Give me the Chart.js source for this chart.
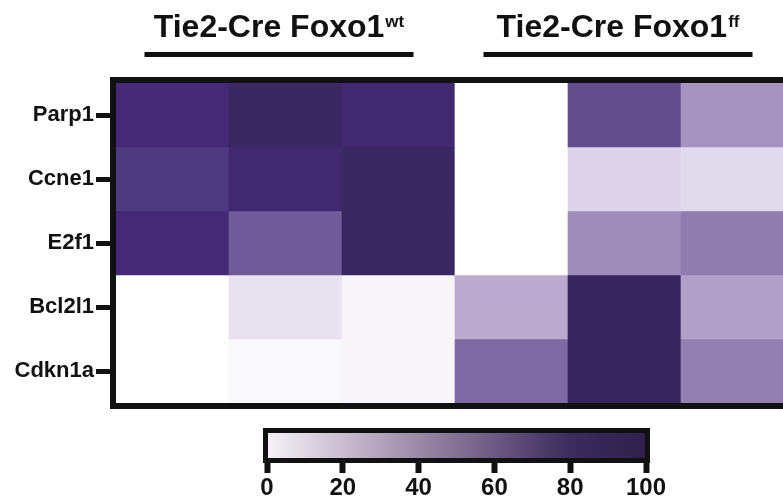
<!DOCTYPE html>
<html>
<head>
<meta charset="utf-8">
<script src="https://cdn.jsdelivr.net/npm/chart.js@4"></script>
<style>
  html, body { margin: 0; padding: 0; background: #fff; overflow: hidden; width: 783px; height: 500px; }
  #main { position: absolute; left: 0; top: 0; }
  #bar { position: absolute; left: 0; top: 410px; }
</style>
</head>
<body>
<canvas id="main" width="800" height="420"></canvas>
<canvas id="bar" width="783" height="90"></canvas>
<script>
// genes (rows, top to bottom) and samples (columns)
var genes = ['Parp1', 'Ccne1', 'E2f1', 'Bcl2l1', 'Cdkn1a'];
var samples = ['wt1', 'wt2', 'wt3', 'ff1', 'ff2', 'ff3'];
var groups = [
    { name: 'Tie2-Cre Foxo1', sup: 'wt', from: 0, to: 2 },
    { name: 'Tie2-Cre Foxo1', sup: 'ff', from: 3, to: 5 }
];

// relative expression, 0-100
var parp1  = [85, 97, 88, 0, 65, 40];
var ccne1  = [75, 88, 97, 0, 18, 16];
var e2f1   = [85, 60, 96, 0, 42, 47];
var bcl2l1 = [0, 12, 4, 33, 98, 36];
var cdkn1a = [0, 3, 4, 54, 98, 46];
var values = [parp1, ccne1, e2f1, bcl2l1, cdkn1a];

var scaleTicks = [0, 20, 40, 60, 80, 100];

// colour map for cells
var cellStops = [
    [0, '#ffffff'], [15, '#e3dbed'], [20, '#dbd0e6'], [35, '#b4a4ca'],
    [45, '#9483b3'], [55, '#7a67a1'], [65, '#624e8c'], [75, '#4e3a7e'],
    [85, '#432976'], [92, '#3d2a68'], [100, '#36265c']
];
// colour bar gradient (printed a bit greyer)
var barStops = [
    [0, '#f6f3f7'], [20, '#c9bdcf'], [40, '#9a8aa7'], [60, '#6b5a81'],
    [80, '#3c2c5c'], [100, '#2e1f4c']
];

function hex2rgb(h) {
    return [parseInt(h.substr(1, 2), 16), parseInt(h.substr(3, 2), 16), parseInt(h.substr(5, 2), 16)];
}
function colorFor(v) {
    for (var i = 1; i < cellStops.length; i++) {
        if (v <= cellStops[i][0]) {
            var a = cellStops[i - 1], b = cellStops[i];
            var t = (v - a[0]) / (b[0] - a[0]);
            var ca = hex2rgb(a[1]), cb = hex2rgb(b[1]);
            return 'rgb(' + ca.map(function(c, k) { return Math.round(c + (cb[k] - c) * t); }).join(',') + ')';
        }
    }
    return cellStops[cellStops.length - 1][1];
}

var font = '"Liberation Sans", Arial, sans-serif';

var datasets = genes.map(function(g, i) {
    return {
        label: g,
        data: samples.map(function() { return [i, i + 1]; }),
        backgroundColor: values[i].map(colorFor),
        borderWidth: 0,
        grouped: false,
        barPercentage: 1,
        categoryPercentage: 1
    };
});

var framePlugin = {
    id: 'frame',
    afterDatasetsDraw: function(chart) {
        var a = chart.chartArea, ctx = chart.ctx;
        ctx.save();
        ctx.strokeStyle = '#111';
        ctx.lineWidth = 6;
        ctx.strokeRect(a.left - 3, a.top - 3, a.right - a.left + 6, a.bottom - a.top + 6);
        ctx.restore();
    }
};

var headerPlugin = {
    id: 'headers',
    afterDraw: function(chart) {
        var ctx = chart.ctx, xs = chart.scales.x;
        ctx.save();
        groups.forEach(function(gr) {
            var x1 = xs.getPixelForValue(gr.from) - 28;
            var x2 = xs.getPixelForValue(gr.to) + 15;
            var cx = (x1 + x2) / 2;
            ctx.fillStyle = '#111';
            ctx.fillRect(x1, 52, x2 - x1, 5);
            ctx.font = 'bold 32px ' + font;
            var w1 = ctx.measureText(gr.name).width;
            ctx.font = 'bold 17px ' + font;
            var w2 = ctx.measureText(gr.sup).width;
            var start = cx - (w1 + w2 + 1) / 2;
            ctx.textBaseline = 'alphabetic';
            ctx.textAlign = 'left';
            ctx.font = 'bold 32px ' + font;
            ctx.fillText(gr.name, start, 37);
            ctx.font = 'bold 17px ' + font;
            ctx.fillText(gr.sup, start + w1 + 1, 27);
        });
        ctx.restore();
    }
};

new Chart(document.getElementById('main').getContext('2d'), {
    type: 'bar',
    data: { labels: samples, datasets: datasets },
    options: {
        responsive: false,
        animation: false,
        layout: { padding: { top: 83, right: 6, bottom: 17, left: 0 } },
        plugins: { legend: { display: false }, tooltip: { enabled: false } },
        scales: {
            x: { display: false },
            y: {
                type: 'linear',
                min: 0,
                max: genes.length,
                reverse: true,
                afterFit: function(scale) { scale.width = 116; },
                afterBuildTicks: function(scale) {
                    scale.ticks = genes.map(function(g, i) { return { value: i + 0.5 }; });
                },
                border: { display: false },
                grid: {
                    drawOnChartArea: false,
                    drawTicks: true,
                    tickLength: 20,
                    tickWidth: 5,
                    tickColor: '#111'
                },
                ticks: {
                    padding: 2,
                    color: '#111',
                    font: { family: font, size: 22, weight: 'bold' },
                    callback: function(v) { return genes[Math.floor(v)]; }
                }
            }
        }
    },
    plugins: [framePlugin, headerPlugin]
});

// colour bar
new Chart(document.getElementById('bar').getContext('2d'), {
    type: 'bar',
    data: {
        labels: ['scale'],
        datasets: [{
            data: [[scaleTicks[0], scaleTicks[scaleTicks.length - 1]]],
            borderWidth: 0,
            barPercentage: 1,
            categoryPercentage: 1,
            backgroundColor: function(c) {
                var a = c.chart.chartArea;
                if (!a) return '#888';
                var g = c.chart.ctx.createLinearGradient(a.left, 0, a.right, 0);
                barStops.forEach(function(s) { g.addColorStop(s[0] / 100, s[1]); });
                return g;
            }
        }]
    },
    options: {
        indexAxis: 'y',
        responsive: false,
        animation: false,
        layout: { padding: { top: 23, left: 267, right: 137, bottom: 0 } },
        plugins: { legend: { display: false }, tooltip: { enabled: false } },
        scales: {
            y: { display: false },
            x: {
                type: 'linear',
                min: 0,
                max: 100,
                afterFit: function(scale) { scale.height = 42; },
                afterBuildTicks: function(scale) {
                    scale.ticks = scaleTicks.map(function(v) { return { value: v }; });
                },
                border: { display: false },
                grid: {
                    drawOnChartArea: false,
                    drawTicks: true,
                    tickLength: 15,
                    tickWidth: 6,
                    tickColor: '#111'
                },
                ticks: {
                    padding: 1,
                    color: '#111',
                    maxRotation: 0,
                    font: { family: font, size: 24, weight: 'bold' }
                }
            }
        }
    },
    plugins: [{
        id: 'barFrame',
        afterDatasetsDraw: function(chart) {
            var a = chart.chartArea, ctx = chart.ctx;
            ctx.save();
            ctx.strokeStyle = '#111';
            ctx.lineWidth = 5;
            ctx.strokeRect(a.left - 1.5, a.top - 2.5, a.right - a.left + 3, a.bottom - a.top + 5);
            ctx.restore();
        }
    }]
});
</script>
</body>
</html>
